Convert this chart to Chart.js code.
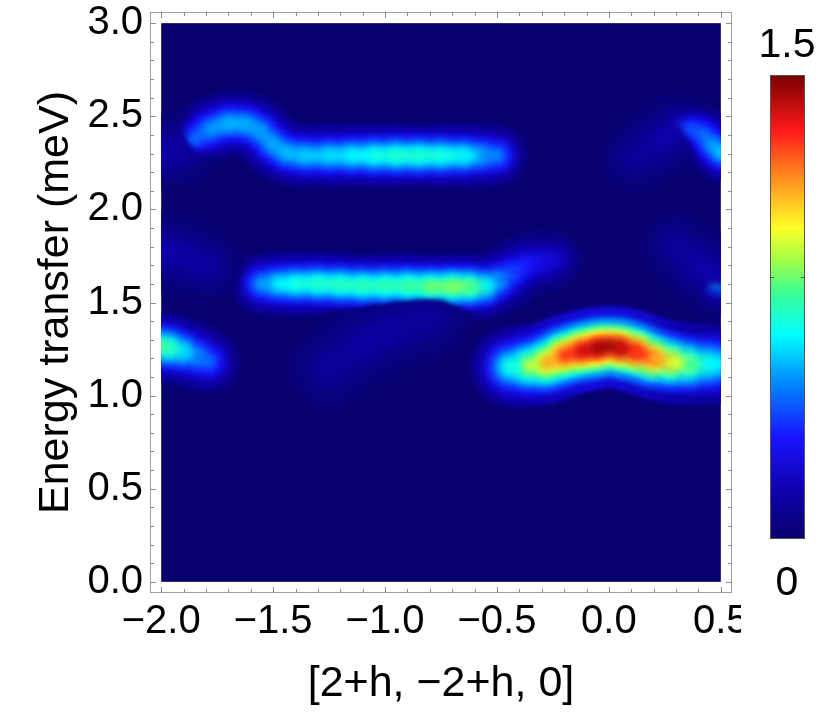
<!DOCTYPE html>
<html>
<head>
<meta charset="utf-8">
<script src="https://cdn.jsdelivr.net/npm/chart.js@4.4.1/dist/chart.umd.min.js"></script>
<style>
  html, body { margin: 0; padding: 0; background: #fff; }
  #wrap { width: 836px; height: 712px; }
</style>
</head>
<body>
<div id="wrap"><canvas id="mapa" width="836" height="712"></canvas></div>
<script>
// eixos
const xTicks = [-2.0, -1.5, -1.0, -0.5, 0.0, 0.5];
const yTicks = [0.0, 0.5, 1.0, 1.5, 2.0, 2.5, 3.0];
const hRange = [-2.0, 0.5];
const eRange = [0.0, 3.0];
const intensityMax = 1.5;
const colorbarLabels = ['1.5', '0'];

// banda superior (arco + patamar em 2.3 meV)
const upperH = [-1.85, -1.78, -1.70, -1.62, -1.56, -1.50, -1.44, -1.36, -1.25, -1.15, -1.05, -0.95, -0.85, -0.75, -0.65, -0.57, -0.50];
const upperE = [2.38, 2.43, 2.46, 2.455, 2.42, 2.35, 2.305, 2.29, 2.29, 2.29, 2.29, 2.29, 2.29, 2.29, 2.29, 2.29, 2.29];
const upperI = [0.42, 0.52, 0.58, 0.58, 0.54, 0.55, 0.58, 0.60, 0.62, 0.65, 0.70, 0.74, 0.74, 0.72, 0.70, 0.62, 0.42];

// banda do meio (1.6 meV)
const midH = [-1.55, -1.48, -1.40, -1.30, -1.20, -1.10, -1.00, -0.90, -0.80, -0.70, -0.62, -0.55, -0.49, -0.43, -0.37, -0.30, -0.25];
const midE = [1.60, 1.60, 1.60, 1.60, 1.595, 1.59, 1.59, 1.59, 1.585, 1.585, 1.585, 1.59, 1.62, 1.66, 1.70, 1.72, 1.73];
const midI = [0.48, 0.64, 0.72, 0.74, 0.76, 0.76, 0.78, 0.78, 0.84, 0.90, 0.88, 0.76, 0.55, 0.42, 0.36, 0.30, 0.20];

// modo em V perto de h = 0
const vH = [-0.44, -0.36, -0.28, -0.20, -0.12, -0.05, 0.00, 0.05, 0.12, 0.20, 0.28, 0.36, 0.44, 0.49];
const vE = [1.155, 1.16, 1.175, 1.215, 1.24, 1.255, 1.265, 1.255, 1.235, 1.20, 1.18, 1.17, 1.17, 1.17];
const vI = [0.58, 0.86, 1.05, 1.26, 1.38, 1.47, 1.50, 1.47, 1.38, 1.26, 1.06, 0.90, 0.72, 0.62];

// borda esquerda (1.25 meV)
const leftH = [-2.02, -1.96, -1.90, -1.84, -1.79];
const leftE = [1.27, 1.255, 1.235, 1.21, 1.185];
const leftI = [0.90, 0.80, 0.68, 0.56, 0.40];

// borda direita, em cima e no meio
const rTopH = [0.32, 0.37, 0.42, 0.46, 0.50, 0.54];
const rTopE = [2.44, 2.43, 2.40, 2.35, 2.31, 2.29];
const rTopI = [0.38, 0.42, 0.45, 0.52, 0.60, 0.62];
const rMidH = [0.48, 0.52, 0.56];
const rMidE = [1.60, 1.60, 1.60];
const rMidI = [0.50, 0.60, 0.60];

// brilho fraco de fundo
const hazeLeftH = [-2.02, -1.90, -1.80];
const hazeLeftE = [1.78, 1.75, 1.70];
const hazeLeftI = [0.16, 0.14, 0.12];
const hazeArcH = [-2.02, -1.92];
const hazeArcE = [2.30, 2.32];
const hazeArcI = [0.14, 0.14];
const hazeMidH = [-1.25, -1.10, -0.95, -0.80];
const hazeMidE = [1.15, 1.28, 1.36, 1.42];
const hazeMidI = [0.10, 0.13, 0.13, 0.10];
const hazeTopH = [0.12, 0.22, 0.30];
const hazeTopE = [2.28, 2.36, 2.42];
const hazeTopI = [0.10, 0.13, 0.16];
const hazeRightH = [0.30, 0.40, 0.50];
const hazeRightE = [1.80, 1.70, 1.62];
const hazeRightI = [0.10, 0.13, 0.16];

// mapa de cores tipo jet
const jetStops = [
    [0.00, [8, 0, 110]],
    [0.10, [15, 0, 170]],
    [0.22, [25, 20, 255]],
    [0.34, [0, 140, 255]],
    [0.44, [0, 255, 255]],
    [0.53, [60, 255, 150]],
    [0.60, [160, 255, 70]],
    [0.67, [255, 255, 40]],
    [0.77, [255, 150, 30]],
    [0.88, [255, 25, 25]],
    [1.00, [120, 0, 0]]
];

function jet(t) {
    t = Math.max(0, Math.min(1, t));
    for (let k = 1; k < jetStops.length; k++) {
        const [t1, c1] = jetStops[k];
        const [t0, c0] = jetStops[k - 1];
        if (t <= t1) {
            const f = (t - t0) / (t1 - t0);
            const c = c0.map((v, j) => Math.round(v + (c1[j] - v) * f));
            return 'rgb(' + c.join(',') + ')';
        }
    }
    return 'rgb(120,0,0)';
}

const bands = [
    { h: hazeLeftH, e: hazeLeftE, i: hazeLeftI, w: 26 },
    { h: hazeArcH, e: hazeArcE, i: hazeArcI, w: 26 },
    { h: hazeMidH, e: hazeMidE, i: hazeMidI, w: 30 },
    { h: hazeTopH, e: hazeTopE, i: hazeTopI, w: 26 },
    { h: hazeRightH, e: hazeRightE, i: hazeRightI, w: 26 },
    { h: upperH, e: upperE, i: upperI, w: 20 },
    { h: midH, e: midE, i: midI, w: 20 },
    { h: vH, e: vE, i: vI, w: 26 },
    { h: leftH, e: leftE, i: leftI, w: 21 },
    { h: rTopH, e: rTopE, i: rTopI, w: 18 },
    { h: rMidH, e: rMidE, i: rMidI, w: 18 }
];

// camadas: fração da intensidade e largura relativa
const layerFrac = [0.18, 0.35, 0.52, 0.68, 0.84, 0.97];
const layerWidth = [3.0, 2.2, 1.7, 1.3, 0.9, 0.5];

const datasets = [];
layerFrac.forEach((f, k) => {
    bands.forEach(b => {
        datasets.push({
            data: b.h.map((x, n) => ({ x: x, y: b.e[n] })),
            showLine: true,
            fill: false,
            pointRadius: 0,
            pointHoverRadius: 0,
            tension: 0.4,
            borderWidth: b.w * layerWidth[k],
            borderCapStyle: 'round',
            borderJoinStyle: 'round',
            borderColor: jet(f * b.i[0] / intensityMax),
            segment: {
                borderColor: c => jet(f * (b.i[c.p0DataIndex] + b.i[c.p1DataIndex]) / 2 / intensityMax)
            },
            order: layerFrac.length - k
        });
    });
});

const fonte = "'Liberation Sans', Arial, Helvetica, sans-serif";
const fmt = v => (v < 0 ? '\u2212' : '') + Math.abs(v).toFixed(1);

// fundo azul, desfoque e recorte na região dos dados
const mapaPlugin = {
    id: 'mapa',
    beforeDatasetsDraw(chart) {
        const { ctx, scales: { x, y } } = chart;
        const x0 = x.getPixelForValue(hRange[0]), x1 = x.getPixelForValue(hRange[1]);
        const y0 = y.getPixelForValue(eRange[1]), y1 = y.getPixelForValue(eRange[0]);
        ctx.save();
        ctx.fillStyle = jet(0);
        ctx.fillRect(x0, y0, x1 - x0, y1 - y0);
        ctx.beginPath();
        ctx.rect(x0, y0, x1 - x0, y1 - y0);
        ctx.clip();
        ctx.filter = 'blur(3px)';
    },
    afterDatasetsDraw(chart) {
        chart.ctx.restore();
    },
    afterDraw(chart) {
        const { ctx, chartArea: a, scales: { x, y } } = chart;
        ctx.save();
        // moldura
        ctx.strokeStyle = '#a0a0a0';
        ctx.lineWidth = 1;
        ctx.strokeRect(a.left + 0.5, a.top + 0.5, a.right - a.left - 1, a.bottom - a.top - 1);
        // marcas para dentro nos quatro lados
        ctx.strokeStyle = '#8c8c8c';
        ctx.beginPath();
        for (let k = 0; k <= 25; k++) {
            const v = hRange[0] + k / 10;
            const px = Math.round(x.getPixelForValue(v)) + 0.5;
            const len = k % 5 === 0 ? 6 : 4;
            ctx.moveTo(px, a.bottom); ctx.lineTo(px, a.bottom - len);
            ctx.moveTo(px, a.top); ctx.lineTo(px, a.top + len);
        }
        for (let k = 0; k <= 30; k++) {
            const v = eRange[0] + k / 10;
            const py = Math.round(y.getPixelForValue(v)) + 0.5;
            const len = k % 5 === 0 ? 6 : 4;
            ctx.moveTo(a.left, py); ctx.lineTo(a.left + len, py);
            ctx.moveTo(a.right, py); ctx.lineTo(a.right - len, py);
        }
        ctx.stroke();

        // rótulo 0.5 cortado como na figura
        ctx.fillStyle = '#fff';
        ctx.fillRect(741, a.bottom + 4, 95, 50);

        // barra de cores
        const cbL = 770, cbR = 805, cbT = 75, cbB = 539;
        const grad = ctx.createLinearGradient(0, cbB, 0, cbT);
        jetStops.forEach(([t, c]) => grad.addColorStop(t, 'rgb(' + c.join(',') + ')'));
        ctx.fillStyle = grad;
        ctx.fillRect(cbL, cbT, cbR - cbL, cbB - cbT);
        ctx.strokeStyle = '#555';
        ctx.strokeRect(cbL + 0.5, cbT + 0.5, cbR - cbL - 1, cbB - cbT - 1);
        ctx.beginPath();
        ctx.moveTo(cbL, 277.5); ctx.lineTo(cbL + 4, 277.5);
        ctx.moveTo(cbR, 277.5); ctx.lineTo(cbR - 4, 277.5);
        ctx.stroke();
        ctx.fillStyle = '#000';
        ctx.font = '41px ' + fonte;
        ctx.textAlign = 'center';
        ctx.textBaseline = 'alphabetic';
        ctx.fillText(colorbarLabels[0], 787, 57);
        ctx.fillText(colorbarLabels[1], 787, 595);
        ctx.restore();
    }
};

new Chart(document.getElementById('mapa').getContext('2d'), {
    type: 'scatter',
    data: { datasets: datasets },
    options: {
        responsive: false,
        animation: false,
        devicePixelRatio: 1,
        layout: { padding: { top: 12, right: 104, left: 0, bottom: 0 } },
        plugins: {
            legend: { display: false },
            tooltip: { enabled: false }
        },
        events: [],
        scales: {
            x: {
                type: 'linear',
                min: -2.05,
                max: 0.55,
                afterBuildTicks: s => { s.ticks = xTicks.map(v => ({ value: v })); },
                afterFit: s => { s.height = 119; s.paddingLeft = 0; s.paddingRight = 0; },
                grid: { display: false, drawTicks: false },
                border: { display: false },
                ticks: {
                    padding: 5,
                    color: '#000',
                    font: { size: 40, family: fonte },
                    maxRotation: 0,
                    autoSkip: false,
                    callback: v => fmt(v)
                },
                title: {
                    display: true,
                    text: '[2+h, \u22122+h, 0]',
                    color: '#000',
                    font: { size: 43, family: fonte },
                    padding: { top: 0, bottom: 2 }
                }
            },
            y: {
                type: 'linear',
                min: -0.06,
                max: 3.06,
                afterBuildTicks: s => { s.ticks = yTicks.map(v => ({ value: v })); },
                afterFit: s => { s.width = 150; s.paddingTop = 0; s.paddingBottom = 0; },
                grid: { display: false, drawTicks: false },
                border: { display: false },
                ticks: {
                    padding: 7,
                    color: '#000',
                    font: { size: 40, family: fonte },
                    autoSkip: false,
                    callback: v => fmt(v)
                },
                title: {
                    display: true,
                    text: 'Energy transfer (meV)',
                    color: '#000',
                    font: { size: 43, family: fonte },
                    padding: { top: 30, bottom: 0 }
                }
            }
        }
    },
    plugins: [mapaPlugin]
});
</script>
</body>
</html>
